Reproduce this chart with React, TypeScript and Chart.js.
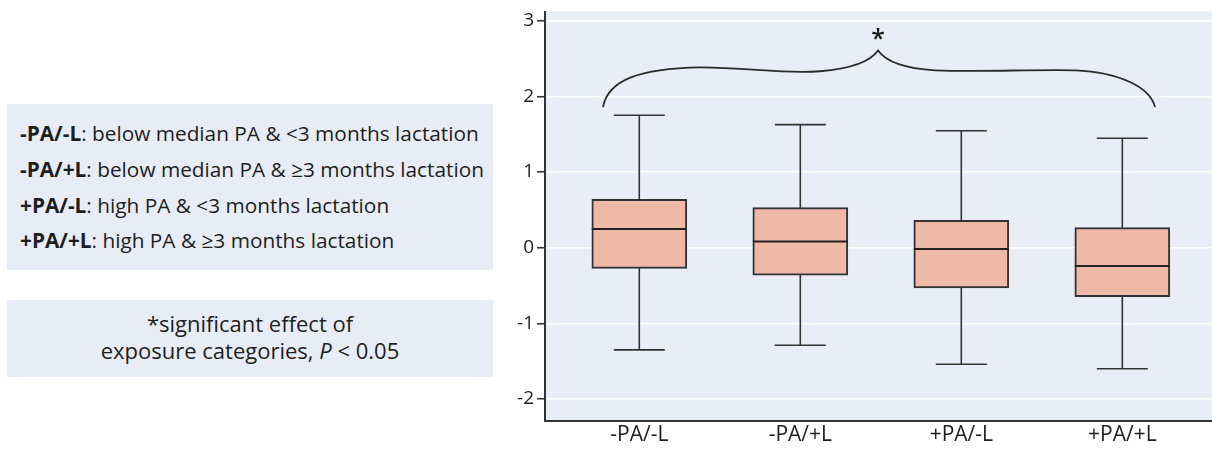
import React, { useEffect, useRef } from 'react';
import { Chart, registerables } from 'chart.js';

Chart.register(...registerables);

// ---- data ----
const categories = ['-PA/-L', '-PA/+L', '+PA/-L', '+PA/+L'];
const whiskerLow = [-1.35, -1.29, -1.54, -1.6];
const q1 = [-0.274, -0.364, -0.53, -0.648];
const median = [0.248, 0.083, -0.018, -0.241];
const q3 = [0.638, 0.529, 0.362, 0.266];
const whiskerHigh = [1.75, 1.626, 1.545, 1.445];
const yTicks = [-2, -1, 0, 1, 2, 3];

const legendKeys = ['-PA/-L', '-PA/+L', '+PA/-L', '+PA/+L'];
const legendDescriptions = [
  'below median PA & <3 months lactation',
  'below median PA & ≥3 months lactation',
  'high PA & <3 months lactation',
  'high PA & ≥3 months lactation',
];
const noteLine1 = '*significant effect of';
const noteLine2Start = 'exposure categories, ';
const noteLine2Italic = 'P';
const noteLine2End = ' < 0.05';

// significance brace (data units): start point then cubic segments [cp1x,cp1y,cp2x,cp2y,x,y]
const braceStart = [0.7745, 1.858];
const braceSegments = [
  [0.8056, 2.215, 1.0043, 2.37, 1.377, 2.383],
  [1.6876, 2.383, 1.8739, 2.291, 2.1224, 2.331],
  [2.3398, 2.37, 2.4394, 2.475, 2.4829, 2.606],
  [2.5264, 2.475, 2.6379, 2.37, 2.8366, 2.344],
  [3.1161, 2.318, 3.4267, 2.357, 3.7062, 2.344],
  [3.9857, 2.318, 4.172, 2.121, 4.2031, 1.858],
];
const asteriskPos = [2.4829, 2.799];
const asteriskText = '*';

const FONT = "'Open Sans', sans-serif";
const LINE = '#333333';

const bgPlugin = {
  id: 'plotBg',
  beforeDraw(chart: any) {
    const { ctx, chartArea } = chart;
    ctx.save();
    ctx.fillStyle = '#E9EDF7';
    ctx.fillRect(chartArea.left, chartArea.top, chartArea.right - chartArea.left, chartArea.bottom - chartArea.top);
    ctx.restore();
  },
};

const boxPlugin = {
  id: 'boxParts',
  beforeDatasetsDraw(chart: any) {
    const { ctx } = chart;
    const x = chart.scales.x;
    const y = chart.scales.y;
    const cap = 25.5;
    ctx.save();
    ctx.strokeStyle = LINE;
    ctx.lineWidth = 1.6;
    categories.forEach((_, i) => {
      const cx = x.getPixelForValue(i + 1);
      const yh = y.getPixelForValue(whiskerHigh[i]);
      const yl = y.getPixelForValue(whiskerLow[i]);
      ctx.beginPath();
      ctx.moveTo(cx, yh);
      ctx.lineTo(cx, yl);
      ctx.moveTo(cx - cap, yh);
      ctx.lineTo(cx + cap, yh);
      ctx.moveTo(cx - cap, yl);
      ctx.lineTo(cx + cap, yl);
      ctx.stroke();
    });
    ctx.restore();
  },
  afterDatasetsDraw(chart: any) {
    const { ctx } = chart;
    const x = chart.scales.x;
    const y = chart.scales.y;
    const half = 47.5;
    ctx.save();
    ctx.strokeStyle = '#222';
    ctx.lineWidth = 2;
    categories.forEach((_, i) => {
      const cx = x.getPixelForValue(i + 1);
      const ym = y.getPixelForValue(median[i]);
      ctx.beginPath();
      ctx.moveTo(cx - half, ym);
      ctx.lineTo(cx + half, ym);
      ctx.stroke();
    });
    // brace
    ctx.strokeStyle = '#2a2a2a';
    ctx.lineWidth = 1.8;
    ctx.beginPath();
    ctx.moveTo(x.getPixelForValue(braceStart[0]), y.getPixelForValue(braceStart[1]));
    braceSegments.forEach((s) => {
      ctx.bezierCurveTo(
        x.getPixelForValue(s[0]), y.getPixelForValue(s[1]),
        x.getPixelForValue(s[2]), y.getPixelForValue(s[3]),
        x.getPixelForValue(s[4]), y.getPixelForValue(s[5])
      );
    });
    ctx.stroke();
    // asterisk
    ctx.fillStyle = '#1a1a1a';
    ctx.font = `600 25px ${FONT}`;
    ctx.textAlign = 'center';
    ctx.textBaseline = 'alphabetic';
    ctx.fillText(asteriskText, x.getPixelForValue(asteriskPos[0]), y.getPixelForValue(asteriskPos[1]) + 11);
    ctx.restore();
  },
};

function ChartPanel() {
  const ref = useRef<HTMLCanvasElement | null>(null);
  useEffect(() => {
    if (!ref.current) return;
    const chart = new Chart(ref.current, {
      type: 'bar',
      data: {
        datasets: [
          {
            data: categories.map((_, i) => ({ x: i + 1, y: [q1[i], q3[i]] })) as any,
            backgroundColor: '#EFB9A7',
            borderColor: LINE,
            borderWidth: 2,
            borderSkipped: false,
            barThickness: 95,
          },
        ],
      },
      options: {
        animation: false,
        responsive: false,
        devicePixelRatio: 1,
        layout: { padding: { top: 9, left: 0, right: 0, bottom: 0 } },
        plugins: { legend: { display: false }, tooltip: { enabled: false } },
        scales: {
          x: {
            type: 'linear',
            offset: false,
            min: 0.4143,
            max: 4.557,
            grid: { display: false, drawTicks: false },
            border: { display: true, color: LINE, width: 2 },
            afterBuildTicks: (s: any) => {
              s.ticks = categories.map((_, i) => ({ value: i + 1 }));
            },
            afterFit: (s: any) => {
              s.height = 28;
            },
            ticks: {
              autoSkip: false,
              maxRotation: 0,
              padding: 5,
              color: '#1e1e1e',
              font: { family: FONT, size: 21, lineHeight: 0.9 },
              callback: (v: any) => categories[Number(v) - 1],
            },
          },
          y: {
            type: 'linear',
            min: -2.29,
            max: 3.12,
            afterBuildTicks: (s: any) => {
              s.ticks = yTicks.map((v) => ({ value: v }));
            },
            afterFit: (s: any) => {
              s.width = 45;
            },
            grid: { color: '#ffffff', lineWidth: 1.5, tickColor: LINE, tickWidth: 1.6, tickLength: 8 },
            border: { display: true, color: LINE, width: 2 },
            ticks: {
              padding: 3,
              color: '#1e1e1e',
              font: { family: FONT, size: 19, lineHeight: 0.9 },
              callback: (v: any) => String(v),
            },
          },
        },
      } as any,
      plugins: [bgPlugin, boxPlugin],
    });
    return () => chart.destroy();
  }, []);
  return <canvas ref={ref} width={712} height={449} style={{ position: 'absolute', left: 500, top: 0 }} />;
}

export default function App() {
  const boxStyle: React.CSSProperties = {
    position: 'absolute',
    left: 7,
    width: 486,
    background: '#E8ECF6',
    fontFamily: FONT,
    color: '#1e1e1e',
    boxSizing: 'border-box',
  };
  return (
    <div style={{ position: 'absolute', left: 0, top: 0, width: 1212, height: 449, background: '#fff', overflow: 'hidden' }}>
      <div style={{ ...boxStyle, top: 104, height: 166, paddingTop: 12, paddingLeft: 13, fontSize: 20.8, lineHeight: '35.8px', whiteSpace: 'nowrap' }}>
        {legendKeys.map((k, i) => (
          <div key={k}>
            <b>{k}</b>: {legendDescriptions[i]}
          </div>
        ))}
      </div>
      <div style={{ ...boxStyle, top: 300, height: 77, paddingTop: 9.5, fontSize: 22, lineHeight: '27px', textAlign: 'center' }}>
        <div>{noteLine1}</div>
        <div>
          {noteLine2Start}
          <i>{noteLine2Italic}</i>
          {noteLine2End}
        </div>
      </div>
      <ChartPanel />
    </div>
  );
}
